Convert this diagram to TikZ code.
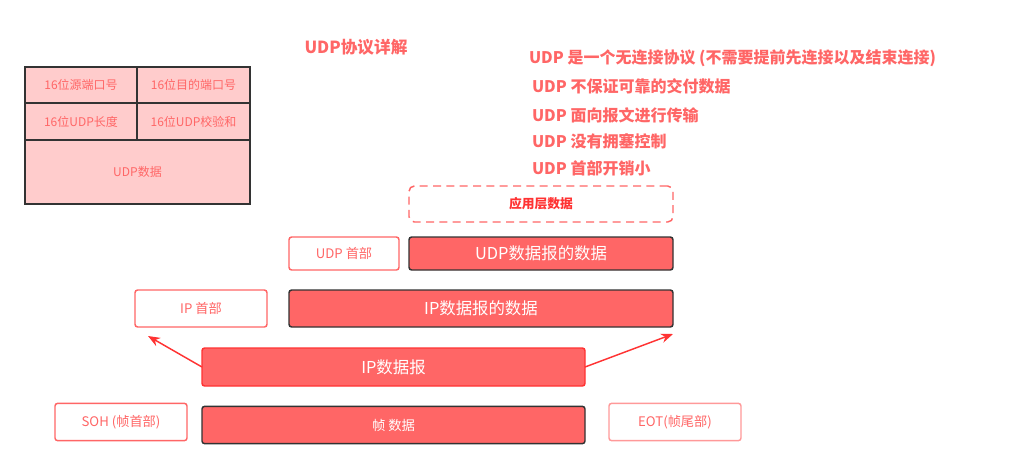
\documentclass[tikz,border=0pt]{standalone}
\usepackage{fontspec}
\setmainfont{Noto Sans CJK SC}
\usetikzlibrary{arrows.meta}
\definecolor{udpred}{HTML}{FF6666}
\definecolor{udpdark}{HTML}{333333}
\definecolor{udpbright}{HTML}{FF3333}
\definecolor{udppink}{HTML}{FFCCCC}
\definecolor{udplight}{HTML}{FF9999}
\begin{document}
\begin{tikzpicture}[x=0.75pt,y=-0.75pt,inner sep=0pt,outer sep=0pt,
cell/.style={draw=udpdark,fill=udppink,line width=1.5pt,text=udpred,font=\fontsize{9}{11}\selectfont,minimum width=84pt,minimum height=27pt},
hdrbox/.style={draw=udpred,fill=white,line width=1.1pt,rounded corners=2pt,text=udpred,font=\fontsize{9.9}{12}\selectfont,minimum width=99pt,minimum height=28pt},
databox/.style={draw=udpdark,fill=udpred,line width=1.1pt,rounded corners=2pt,text=white,font=\fontsize{12.3}{14}\selectfont,minimum height=28pt},
note/.style={anchor=west,text=udpred,font=\fontsize{12}{14}\selectfont\bfseries}]
\useasboundingbox (0,0) rectangle (1021,469);

\node[text=udpred,font=\fontsize{12.5}{15}\selectfont\bfseries] (title) at (356,47) {UDP协议详解};

% UDP header table
\node[cell] (srcport) at (81,85) {16位源端口号};
\node[cell,minimum width=84.75pt] (dstport) at (193.5,85) {16位目的端口号};
\node[cell,minimum height=27.75pt] (udplen) at (81,121.5) {16位UDP长度};
\node[cell,minimum width=84.75pt,minimum height=27.75pt] (udpsum) at (193.5,121.5) {16位UDP校验和};
\node[cell,minimum width=168.75pt,minimum height=48pt] (udpbody) at (137.5,172) {UDP数据};

% features
\node[note] (f1) at (529,58) {UDP 是一个无连接协议 (不需要提前先连接以及结束连接)};
\node[note] (f2) at (532,86) {UDP 不保证可靠的交付数据};
\node[note] (f3) at (532,115) {UDP 面向报文进行传输};
\node[note] (f4) at (532,141) {UDP 没有拥塞控制};
\node[note] (f5) at (532,168) {UDP 首部开销小};

% encapsulation
\node[draw=udpred,dashed,dash pattern=on 6pt off 4pt,line width=1.1pt,rounded corners=4pt,text=udpbright,font=\fontsize{9.6}{11}\selectfont\bfseries,minimum width=198pt,minimum height=27pt] (appdata) at (541,204) {应用层数据};

\node[hdrbox,minimum width=82.5pt,minimum height=24.75pt] (udphdr) at (344,253.5) {UDP 首部};
\node[databox,minimum width=198pt,minimum height=24.75pt] (udpdata) at (541,253.5) {UDP数据报的数据};

\node[hdrbox,minimum height=27.75pt] (iphdr) at (201,308.5) {IP 首部};
\node[databox,minimum width=288pt,minimum height=27.75pt] (ipdata) at (481,308.5) {IP数据报的数据};

\node[databox,draw=udpbright,minimum width=287.25pt,minimum height=28.5pt] (ipdgram) at (393.5,367) {IP数据报};
\coordinate (ipleft) at (148,336);
\coordinate (ipright) at (673,334);
\draw[udpbright,line width=1.1pt,-{Stealth[length=9pt,width=7pt]}] (ipdgram.west) -- (ipleft);
\draw[udpbright,line width=1.1pt,-{Stealth[length=9pt,width=7pt]}] (ipdgram.east) -- (ipright);

\node[hdrbox] (soh) at (121,422) {SOH (帧首部)};
\node[databox,minimum width=287.25pt,font=\fontsize{10}{12}\selectfont] (frame) at (393.5,425) {帧 数据};
\node[hdrbox,draw=udplight] (eot) at (675,422) {EOT(帧尾部)};
\end{tikzpicture}
\end{document}
